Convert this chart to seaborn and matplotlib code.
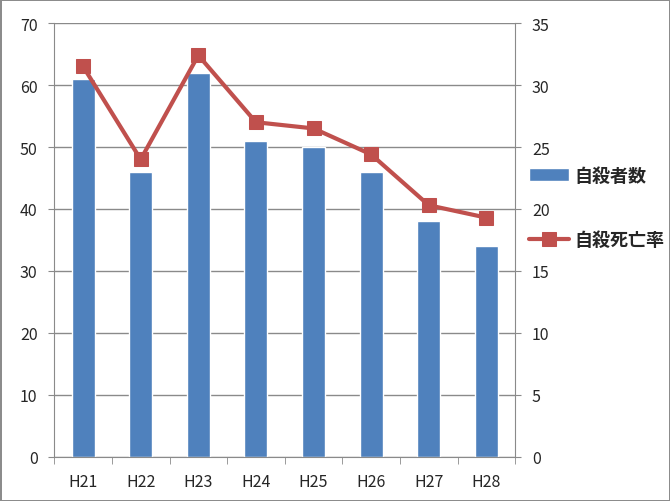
import numpy as np
import matplotlib
matplotlib.use("Agg")
import matplotlib.pyplot as plt
import seaborn as sns

years = ["H21", "H22", "H23", "H24", "H25", "H26", "H27", "H28"]
suicides = [61, 46, 62, 51, 50, 46, 38, 34]
rate = [31.5, 24.0, 32.4, 27.0, 26.5, 24.4, 20.3, 19.3]

sns.set_style("white")
plt.rcParams['font.family'] = ['Noto Sans CJK JP', 'DejaVu Sans']

fig = plt.figure(figsize=(6.7, 5.02), dpi=100, edgecolor='#8c8c8c', linewidth=2)
ax = fig.add_axes([0.081, 0.088, 0.688, 0.864])

sns.barplot(x=years, y=suicides, color='#4f81bd', width=0.4, saturation=1,
            ax=ax, label='自殺者数', zorder=2)
ax.set_ylim(0, 70)
ax.set_yticks(range(0, 71, 10))
ax.set_xlim(-0.5, 7.5)
ax.grid(axis='y', color='#8a8a8a', linewidth=1, zorder=0)
ax.set_axisbelow(True)
for s in ['top', 'right']:
    ax.spines[s].set_visible(False)
for s in ['left', 'bottom']:
    ax.spines[s].set_color('#8a8a8a')
ax.tick_params(axis='y', left=True, length=4, color='#8a8a8a', labelsize=11.5, pad=8)
ax.tick_params(axis='x', bottom=False, labelsize=11.5, pad=8)
ax.set_xticks(np.arange(-0.5, 8, 1), minor=True)
ax.tick_params(axis='x', which='minor', bottom=True, length=5, color='#8a8a8a')

ax2 = ax.twinx()
sns.lineplot(x=years, y=rate, color='#c0504d', marker='s', markersize=10,
             markeredgecolor='#c0504d', linewidth=3, ax=ax2, label='自殺死亡率', zorder=3)
ax2.set_ylim(0, 35)
ax2.set_yticks(range(0, 36, 5))
for s in ['top', 'left', 'bottom']:
    ax2.spines[s].set_visible(False)
ax2.spines['right'].set_color('#8a8a8a')
ax2.tick_params(axis='y', right=True, length=4, color='#8a8a8a', labelsize=11.5, pad=8)
ax2.set_ylabel('')

h1, l1 = ax.get_legend_handles_labels()
h2, l2 = ax2.get_legend_handles_labels()
if ax.get_legend() is not None:
    ax.get_legend().remove()
if ax2.get_legend() is not None:
    ax2.get_legend().remove()
fig.legend(h1 + h2, l1 + l2, loc='center left', bbox_to_anchor=(0.765, 0.585),
           frameon=False, prop={'size': 13, 'weight': 'bold'},
           labelspacing=2.5, handlelength=2.2, handletextpad=0.3)

fig.savefig("out.png", dpi=100)
